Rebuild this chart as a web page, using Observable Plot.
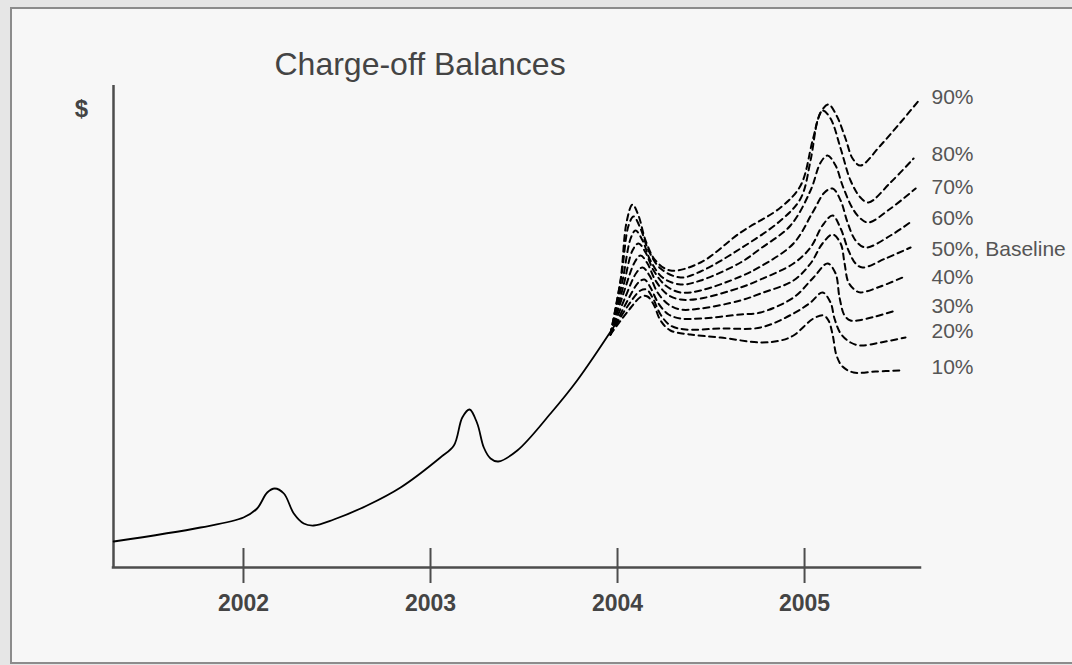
<!DOCTYPE html>
<html>
<head>
<meta charset="utf-8">
<script src="https://cdn.jsdelivr.net/npm/d3@7"></script>
<script src="https://cdn.jsdelivr.net/npm/@observablehq/plot@0.6"></script>
<style>
  html, body { margin: 0; padding: 0; background: #e6e6e6; overflow: hidden; }
  #wrap { position: relative; width: 1072px; height: 665px; }
  #panel { position: absolute; left: 10px; top: 7px; width: 1090px; height: 653px;
           background: #f7f7f7; border: 2px solid #8c8c8c; }
  #chart { position: absolute; left: 0; top: 0; }
</style>
</head>
<body>
<div id="wrap"><div id="panel"></div><div id="chart"></div></div>
<script>
// Year ticks along the time axis
const years = [2002, 2003, 2004, 2005];

// Historical charge-off balance: [decimal year, balance]
const history = [
  [2001.306, 26], [2001.770, 40], [2002.000, 50], [2002.073, 59], [2002.127, 75],
  [2002.167, 79], [2002.216, 74], [2002.269, 54], [2002.322, 44], [2002.376, 42],
  [2002.483, 48], [2002.661, 62], [2002.840, 80], [2003.053, 110], [2003.125, 122],
  [2003.170, 150], [2003.209, 158], [2003.250, 144], [2003.285, 120], [2003.321, 109],
  [2003.362, 106], [2003.464, 117], [2003.642, 154], [2003.784, 187], [2003.995, 245]
];

// Forecast paths by percentile: [decimal year, balance]
const p90 = [
  [2003.962, 233], [2004.016, 287], [2004.048, 345], [2004.080, 363], [2004.112, 352],
  [2004.150, 327], [2004.203, 307], [2004.283, 297], [2004.444, 305], [2004.658, 335],
  [2004.872, 360], [2004.979, 382], [2005.043, 427], [2005.086, 455], [2005.128, 463],
  [2005.171, 452], [2005.219, 429], [2005.257, 409], [2005.299, 402], [2005.406, 422],
  [2005.513, 445], [2005.620, 469]
];
const p80 = [
  [2003.962, 233], [2004.021, 292], [2004.059, 342], [2004.086, 351], [2004.123, 339],
  [2004.166, 317], [2004.230, 299], [2004.337, 290], [2004.444, 296], [2004.658, 319],
  [2004.872, 347], [2004.979, 369], [2005.032, 407], [2005.070, 447], [2005.096, 457],
  [2005.139, 449], [2005.193, 419], [2005.246, 387], [2005.299, 370], [2005.342, 365],
  [2005.460, 385], [2005.583, 409]
];
const p70 = [
  [2003.962, 233], [2004.027, 287], [2004.070, 329], [2004.096, 337], [2004.134, 327],
  [2004.176, 307], [2004.241, 290], [2004.337, 283], [2004.444, 287], [2004.658, 305],
  [2004.765, 319], [2004.925, 342], [2005.032, 377], [2005.086, 405], [2005.123, 412],
  [2005.166, 402], [2005.203, 382], [2005.257, 359], [2005.299, 349], [2005.342, 345],
  [2005.460, 359], [2005.594, 379]
];
const p60 = [
  [2003.962, 233], [2004.032, 282], [2004.080, 317], [2004.112, 324], [2004.150, 315],
  [2004.193, 297], [2004.257, 282], [2004.337, 275], [2004.444, 277], [2004.658, 291],
  [2004.765, 301], [2004.941, 324], [2005.043, 355], [2005.107, 375], [2005.150, 379],
  [2005.193, 367], [2005.230, 345], [2005.273, 327], [2005.326, 320], [2005.460, 332],
  [2005.578, 347]
];
const p50 = [
  [2003.962, 233], [2004.037, 277], [2004.091, 305], [2004.123, 312], [2004.160, 304],
  [2004.203, 287], [2004.267, 273], [2004.337, 268], [2004.444, 269], [2004.658, 280],
  [2004.765, 288], [2004.941, 304], [2005.032, 320], [2005.096, 342], [2005.150, 352],
  [2005.193, 339], [2005.235, 317], [2005.273, 304], [2005.310, 300], [2005.433, 309],
  [2005.567, 320]
];
const p40 = [
  [2003.962, 233], [2004.043, 271], [2004.102, 295], [2004.134, 300], [2004.171, 292],
  [2004.214, 275], [2004.273, 263], [2004.337, 258], [2004.444, 259], [2004.658, 267],
  [2004.765, 274], [2004.941, 287], [2005.032, 304], [2005.096, 324], [2005.150, 333],
  [2005.193, 324], [2005.214, 304], [2005.235, 285], [2005.273, 277], [2005.299, 275],
  [2005.406, 281], [2005.524, 290]
];
const p30 = [
  [2003.962, 233], [2004.048, 265], [2004.112, 285], [2004.144, 288], [2004.176, 280],
  [2004.219, 264], [2004.273, 253], [2004.337, 249], [2004.444, 249], [2004.658, 253],
  [2004.765, 255], [2004.941, 270], [2005.048, 290], [2005.123, 304], [2005.166, 294],
  [2005.187, 270], [2005.214, 252], [2005.246, 247], [2005.283, 247], [2005.380, 251],
  [2005.487, 257]
];
const p20 = [
  [2003.962, 233], [2004.053, 261], [2004.123, 277], [2004.155, 278], [2004.187, 270],
  [2004.230, 253], [2004.283, 242], [2004.364, 238], [2004.551, 239], [2004.765, 240],
  [2004.941, 254], [2005.032, 265], [2005.096, 275], [2005.139, 265], [2005.160, 249],
  [2005.193, 234], [2005.246, 225], [2005.299, 222], [2005.406, 225], [2005.540, 230]
];
const p10 = [
  [2003.962, 233], [2004.059, 257], [2004.128, 271], [2004.160, 271], [2004.193, 263],
  [2004.230, 247], [2004.283, 237], [2004.390, 233], [2004.551, 230], [2004.765, 225],
  [2004.872, 227], [2004.941, 232], [2005.048, 249], [2005.102, 252], [2005.128, 247],
  [2005.150, 233], [2005.171, 212], [2005.203, 201], [2005.262, 195], [2005.380, 196],
  [2005.513, 197]
];

// End labels for each path and the balance level each label sits at
const scenarioLabels = ["90%", "80%", "70%", "60%", "50%, Baseline", "40%", "30%", "20%", "10%"];
const labelLevels = [470, 413, 380, 349, 318, 290, 261, 236, 200];

const paths = [p90, p80, p70, p60, p50, p40, p30, p20, p10];
const xDomain = [2001.305, 2005.62];
const yDomain = [0, 482];

// Long-format rows for the dashed forecast lines
const forecastRows = paths.flatMap((pts, i) =>
  pts.map(([year, value]) => ({scenario: scenarioLabels[i], year, value}))
);
const labelRows = scenarioLabels.map((label, i) => ({label, level: labelLevels[i]}));

const axisColor = "#4d4d4d";
const font = "'Liberation Sans', Arial, Helvetica, sans-serif";

const chart = Plot.plot({
  width: 1072,
  height: 665,
  marginLeft: 113,
  marginRight: 152,
  marginTop: 85,
  marginBottom: 98,
  x: {domain: xDomain, axis: null},
  y: {domain: yDomain, axis: null},
  style: {background: "transparent", fontFamily: font, overflow: "visible"},
  marks: [
    // axes
    Plot.ruleX([xDomain[0]], {stroke: axisColor, strokeWidth: 2.5}),
    Plot.ruleY([yDomain[0]], {stroke: axisColor, strokeWidth: 2.5, strokeLinecap: "square"}),
    // year ticks crossing the time axis
    Plot.ruleX(years, {x: d => d, insetTop: 463, insetBottom: -16, stroke: axisColor, strokeWidth: 2}),
    Plot.text(years, {
      x: d => d, text: d => String(d), frameAnchor: "bottom", dy: 43,
      lineAnchor: "bottom", fontSize: 23, fontWeight: "bold", fill: "#444"
    }),
    // history
    Plot.line(history, {
      x: d => d[0], y: d => d[1], curve: "catmull-rom",
      stroke: "#000", strokeWidth: 1.8
    }),
    // forecast percentiles
    Plot.line(forecastRows, {
      x: "year", y: "value", z: "scenario", curve: "catmull-rom",
      stroke: "#000", strokeWidth: 2, strokeDasharray: "6,4.5"
    }),
    Plot.text(labelRows, {
      y: "level", text: "label", frameAnchor: "right", textAnchor: "start",
      dx: 11, fontSize: 21, fill: "#555"
    }),
    // title and axis label
    Plot.text(["Charge-off Balances"], {
      text: d => d, frameAnchor: "top-left", textAnchor: "start", lineAnchor: "bottom",
      dx: 161, dy: -11, fontSize: 32, fill: "#444"
    }),
    Plot.text(["$"], {
      text: d => d, frameAnchor: "top-left", textAnchor: "middle", lineAnchor: "bottom",
      dx: -32, dy: 31, fontSize: 24, fontWeight: "bold", fill: "#444"
    })
  ]
});

document.getElementById("chart").appendChild(chart);
</script>
</body>
</html>
